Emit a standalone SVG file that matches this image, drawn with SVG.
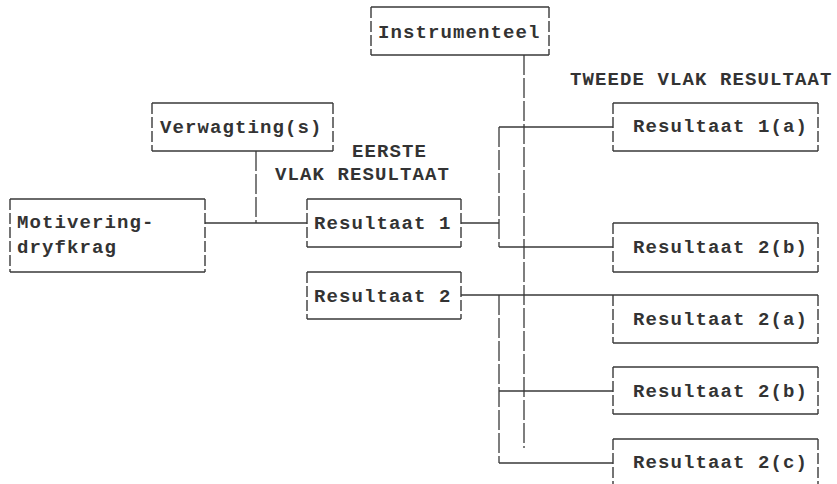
<svg xmlns="http://www.w3.org/2000/svg" width="837" height="484" viewBox="0 0 837 484">
<style>
.h{fill:none;stroke:#3a3a3a;stroke-width:1.4}
.v{fill:none;stroke:#3a3a3a;stroke-width:1.4;stroke-dasharray:11 3}
.c{fill:none;stroke:#3a3a3a;stroke-width:1.3}
.cv{fill:none;stroke:#3a3a3a;stroke-width:1.3;stroke-dasharray:20 3}
text{font-family:"Liberation Mono","Courier New",monospace;font-size:19px;font-weight:bold;fill:#333;letter-spacing:1.1px}
</style>
<rect width="837" height="484" fill="#fff"/>
<g id="connectors">
<path class="c" d="M205 223H307M461 223H499M499 127H613M499 247H613M461 295H613M499 391H613M499 463H613"/>
<path class="cv" d="M256 151V223M499 127V247M499 295V463M524 55V448"/>
</g>
<g id="instrumenteel">
<path class="h" d="M371 7H549M371 55H549"/><path class="v" d="M371 7V55M549 7V55"/>
<text x="378" y="38">Instrumenteel</text>
</g>
<g id="verwagting">
<path class="h" d="M152 103H333M152 151H333"/><path class="v" d="M152 103V151M333 103V151"/>
<text x="160" y="133">Verwagting(s)</text>
</g>
<g id="motivering">
<path class="h" d="M10 199H205M10 272H205"/><path class="v" d="M10 199V272M205 199V272"/>
<text x="17" y="228">Motivering-</text>
<text x="17" y="253">dryfkrag</text>
</g>
<g id="resultaat1">
<path class="h" d="M307 199H461M307 247H461"/><path class="v" d="M307 199V247M461 199V247"/>
<text x="314" y="229">Resultaat 1</text>
</g>
<g id="resultaat2">
<path class="h" d="M307 272H461M307 319H461"/><path class="v" d="M307 272V319M461 272V319"/>
<text x="314" y="302">Resultaat 2</text>
</g>
<g id="label-eerste">
<text x="352" y="157">EERSTE</text>
<text x="275" y="180">VLAK RESULTAAT</text>
</g>
<g id="label-tweede">
<text x="570" y="85">TWEEDE VLAK RESULTAAT</text>
</g>
<g id="resultaat1a">
<path class="h" d="M613 103H818M613 151H818"/><path class="v" d="M613 103V151M818 103V151"/>
<text x="633" y="132">Resultaat 1(a)</text>
</g>
<g id="resultaat1b">
<path class="h" d="M613 223H818M613 272H818"/><path class="v" d="M613 223V272M818 223V272"/>
<text x="633" y="253">Resultaat 2(b)</text>
</g>
<g id="resultaat2a">
<path class="h" d="M613 295H818M613 343H818"/><path class="v" d="M613 295V343M818 295V343"/>
<text x="633" y="325">Resultaat 2(a)</text>
</g>
<g id="resultaat2b">
<path class="h" d="M613 367H818M613 414H818"/><path class="v" d="M613 367V414M818 367V414"/>
<text x="633" y="397">Resultaat 2(b)</text>
</g>
<g id="resultaat2c">
<path class="h" d="M613 439H818M613 487H818"/><path class="v" d="M613 439V487M818 439V487"/>
<text x="633" y="468">Resultaat 2(c)</text>
</g>
</svg>
